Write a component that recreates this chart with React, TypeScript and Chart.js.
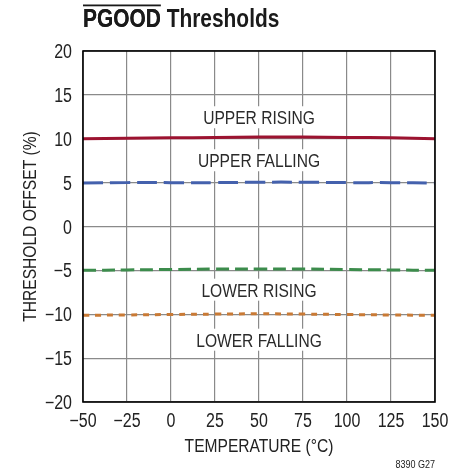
import React, { useEffect, useRef } from "react";
import { Chart, registerables } from "chart.js";

Chart.register(...registerables);

const temperatures = [-50, -25, 0, 25, 50, 75, 100, 125, 150];
const upperRising = [10.0, 10.05, 10.1, 10.15, 10.2, 10.2, 10.15, 10.1, 10.0];
const upperFalling = [4.95, 5.0, 5.0, 5.0, 5.05, 5.05, 5.0, 5.0, 4.95];
const lowerRising = [-5.0, -4.95, -4.9, -4.85, -4.85, -4.85, -4.9, -4.95, -5.0];
const lowerFalling = [-10.12, -10.08, -10.03, -9.98, -9.95, -9.98, -10.03, -10.08, -10.12];

const seriesNames = ["UPPER RISING", "UPPER FALLING", "LOWER RISING", "LOWER FALLING"];
const labelPositions = [
  { x: 50, y: 12.45 },
  { x: 50, y: 7.55 },
  { x: 50, y: -7.2 },
  { x: 50, y: -12.9 },
];
const xTicks = [-50, -25, 0, 25, 50, 75, 100, 125, 150];
const yTicks = [-20, -15, -10, -5, 0, 5, 10, 15, 20];

const FONT = "'Liberation Sans', Arial, sans-serif";
const NARROW = 0.82;
const fmt = (v: number) => (v < 0 ? "\u2212" + Math.abs(v) : String(v));

function narrowText(
  ctx: CanvasRenderingContext2D,
  text: string,
  x: number,
  y: number,
  align: "left" | "center" | "right",
  size: number,
  bold = false,
  color = "#222222"
) {
  ctx.save();
  ctx.font = `${bold ? "bold " : ""}${size}px ${FONT}`;
  ctx.fillStyle = color;
  ctx.textAlign = "left";
  ctx.textBaseline = "alphabetic";
  const w = ctx.measureText(text).width * NARROW;
  const left = align === "left" ? x : align === "center" ? x - w / 2 : x - w;
  ctx.translate(left, y);
  ctx.scale(NARROW, 1);
  ctx.fillText(text, 0, 0);
  ctx.restore();
  return w;
}

const annotations = {
  id: "annotations",
  beforeDatasetsDraw(chart: any) {
    const { ctx, scales } = chart;
    ctx.save();
    ctx.font = `19px ${FONT}`;
    seriesNames.forEach((name, i) => {
      const px = scales.x.getPixelForValue(labelPositions[i].x);
      const py = scales.y.getPixelForValue(labelPositions[i].y);
      const w = ctx.measureText(name).width * NARROW;
      ctx.fillStyle = "#ffffff";
      ctx.fillRect(px - w / 2 - 4, py - 11, w + 8, 22);
      narrowText(ctx, name, px, py + 7, "center", 19, false, "#2a2a2a");
    });
    ctx.restore();
  },
  afterDraw(chart: any) {
    const { ctx, chartArea, scales } = chart;
    ctx.save();
    // title
    const pw = narrowText(ctx, "PGOOD", 83, 27, "left", 25.5, true, "#1a1a1a");
    narrowText(ctx, "PGOOD Thresholds", 83, 27, "left", 25.5, true, "#1a1a1a");
    ctx.fillStyle = "#1a1a1a";
    ctx.fillRect(83, 4.5, pw, 1.8);
    // tick labels
    xTicks.forEach((v) => {
      narrowText(ctx, fmt(v), scales.x.getPixelForValue(v), 427, "center", 19.5);
    });
    yTicks.forEach((v) => {
      narrowText(ctx, fmt(v), 72, scales.y.getPixelForValue(v) + 7, "right", 19.5);
    });
    // axis titles
    narrowText(ctx, "TEMPERATURE (\u00B0C)", (chartArea.left + chartArea.right) / 2, 452, "center", 19);
    ctx.save();
    ctx.translate(36, (chartArea.top + chartArea.bottom) / 2);
    ctx.rotate(-Math.PI / 2);
    narrowText(ctx, "THRESHOLD OFFSET (%)", 0, 0, "center", 19);
    ctx.restore();
    narrowText(ctx, "8390 G27", 435, 468, "right", 11);
    // border
    ctx.strokeStyle = "#000000";
    ctx.lineWidth = 1.6;
    ctx.strokeRect(chartArea.left, chartArea.top, chartArea.right - chartArea.left, chartArea.bottom - chartArea.top);
    ctx.restore();
  },
};

export default function App() {
  const ref = useRef<HTMLCanvasElement | null>(null);
  useEffect(() => {
    if (!ref.current) return;
    const mk = (label: string, data: number[], color: string, dash: number[]) => ({
      label,
      data: temperatures.map((t, i) => ({ x: t, y: data[i] })),
      borderColor: color,
      backgroundColor: color,
      borderWidth: 3,
      borderDash: dash,
      pointRadius: 0,
      tension: 0.4,
      fill: false,
    });
    const chart = new Chart(ref.current, {
      type: "line",
      data: {
        datasets: [
          mk("Upper rising", upperRising, "#9c1330", []),
          mk("Upper falling", upperFalling, "#4461ad", [20, 7]),
          mk("Lower rising", lowerRising, "#3c8c4c", [13, 6]),
          mk("Lower falling", lowerFalling, "#c97a35", [6, 6]),
        ],
      },
      options: {
        responsive: false,
        animation: false,
        devicePixelRatio: 1,
        layout: { padding: { top: 51, right: 31, left: 0, bottom: 0 } },
        plugins: { legend: { display: false }, tooltip: { enabled: false } },
        scales: {
          x: {
            type: "linear",
            min: -50,
            max: 150,
            afterBuildTicks: (s: any) => {
              s.ticks = xTicks.map((v) => ({ value: v }));
            },
            afterFit: (s: any) => {
              s.height = 471 - 402;
            },
            grid: { color: "#8a8a8a", lineWidth: 1.2, drawTicks: false },
            border: { display: false },
            ticks: { display: false },
          },
          y: {
            type: "linear",
            min: -20,
            max: 20,
            afterBuildTicks: (s: any) => {
              s.ticks = yTicks.map((v) => ({ value: v }));
            },
            afterFit: (s: any) => {
              s.width = 83;
            },
            grid: { color: "#8a8a8a", lineWidth: 1.2, drawTicks: false },
            border: { display: false },
            ticks: { display: false },
          },
        },
      },
      plugins: [annotations],
    });
    return () => chart.destroy();
  }, []);
  return (
    <div style={{ position: "fixed", left: 0, top: 0, width: 466, height: 471, background: "#fff" }}>
      <canvas ref={ref} width={466} height={471} />
    </div>
  );
}
